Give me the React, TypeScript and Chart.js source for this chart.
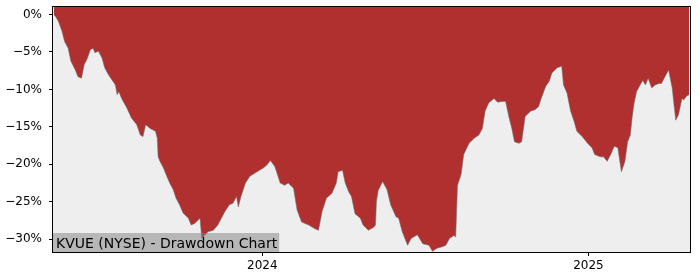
import React, { useEffect, useRef } from "react";
import { Chart, registerables } from "chart.js";

Chart.register(...registerables);

// Days relative to 2024-01-01
const dayOffsets = [
  -234, -232, -229, -225, -222, -218, -215, -210, -207, -203, -200, -197, -193, -190, -188, -184, -180, -177, -173, -169,
  -165, -163, -161, -158, -152, -147, -141, -137, -134, -131, -126, -120, -118, -117, -115, -111, -108, -104, -100, -97,
  -93, -89, -83, -80, -76, -70, -68, -65, -61, -55, -50, -46, -42, -37, -33, -29, -27, -24, -19, -14,
  -6, 1, 5, 9, 14, 20, 25, 29, 35, 39, 44, 52, 59, 63, 67, 72, 78, 83, 85, 90,
  93, 97, 100, 104, 110, 113, 119, 125, 127, 128, 130, 135, 140, 144, 150, 153, 157, 163, 167, 174,
  180, 187, 191, 196, 202, 206, 210, 215, 217, 219, 223, 226, 232, 238, 243, 247, 250, 254, 260, 264,
  269, 273, 277, 280, 283, 288, 291, 295, 301, 306, 310, 313, 318, 322, 325, 331, 336, 338, 342, 346,
  350, 353, 359, 365, 370, 373, 379, 383, 387, 391, 395, 399, 403, 407, 410, 413, 415, 417, 420, 424,
  427, 430, 433, 437, 441, 445, 448, 451, 456, 460, 462, 464, 467, 471, 473, 476, 479,
];

// Drawdown in percent
const drawdownPct = [
  0, -0.3, -0.9, -2.2, -3.6, -4.5, -6.2, -7.4, -8.3, -8.5, -6.7, -6.0, -4.7, -4.5, -5.1, -4.9, -5.8, -7.1, -8.0, -8.7,
  -9.4, -10.7, -10.3, -11.2, -12.5, -13.8, -14.7, -16.1, -16.3, -14.7, -15.2, -15.6, -16.5, -19.0, -19.6, -20.5, -21.4, -22.5, -23.4, -24.5,
  -25.4, -26.5, -27.2, -28.1, -27.9, -27.2, -29.9, -29.5, -29.0, -28.8, -28.1, -27.2, -26.3, -25.4, -25.2, -24.3, -25.7, -24.3, -22.5, -21.6,
  -21.0, -20.5, -20.1, -19.5, -20.3, -22.5, -22.8, -22.5, -23.2, -26.1, -27.7, -28.1, -28.6, -28.8, -26.3, -24.5, -23.9, -22.5, -21.0, -20.8,
  -22.5, -23.7, -24.3, -26.6, -27.2, -28.1, -28.8, -28.4, -28.1, -25.0, -23.5, -22.3, -23.4, -25.4, -27.0, -27.2, -29.0, -30.8, -29.9, -29.4,
  -30.6, -30.8, -31.6, -31.2, -31.0, -30.8, -29.9, -29.5, -29.7, -22.8, -21.4, -18.7, -17.2, -16.5, -16.1, -15.2, -12.9, -11.8, -11.2, -11.7,
  -11.6, -11.6, -13.8, -15.2, -17.0, -17.2, -17.0, -13.6, -12.9, -12.7, -12.3, -11.2, -9.6, -8.9, -7.8, -7.1, -6.9, -9.4, -10.5, -12.9,
  -14.3, -15.6, -16.3, -17.2, -17.8, -18.7, -19.0, -19.0, -19.6, -18.7, -17.6, -17.8, -21.0, -19.6, -17.0, -16.1, -13.8, -12.0, -10.3, -9.4,
  -8.8, -9.4, -8.5, -9.8, -9.4, -9.2, -9.2, -8.5, -7.4, -9.8, -12.0, -14.1, -13.4, -11.2, -11.4, -10.9, -10.7,
];

const yTickValues = [0, -5, -10, -15, -20, -25, -30];
const xTickValues = [0, 366];
const xTickLabels = ["2024", "2025"];
const titleText = "KVUE (NYSE) - Drawdown Chart";

const FONT = "'DejaVu Sans', sans-serif";

export default function App() {
  const ref = useRef<HTMLCanvasElement | null>(null);

  useEffect(() => {
    document.body.style.margin = "0";
    const canvas = ref.current;
    if (!canvas) return;

    const bgPlugin = {
      id: "bgPlugin",
      beforeDatasetsDraw(chart: any) {
        const { ctx, chartArea: a } = chart;
        ctx.save();
        ctx.fillStyle = "#eeeeee";
        ctx.fillRect(a.left, a.top, a.right - a.left, a.bottom - a.top);
        ctx.restore();
      },
      afterDatasetsDraw(chart: any) {
        const { ctx, chartArea: a } = chart;
        ctx.save();
        ctx.font = `14px ${FONT}`;
        const w = ctx.measureText(titleText).width;
        const boxTop = a.bottom - 19;
        ctx.fillStyle = "rgba(128,128,128,0.5)";
        ctx.fillRect(a.left, boxTop, w + 5, a.bottom - boxTop);
        ctx.fillStyle = "#000";
        ctx.textBaseline = "alphabetic";
        ctx.fillText(titleText, a.left + 3, a.bottom - 4.5);
        ctx.strokeStyle = "#000";
        ctx.lineWidth = 1;
        ctx.strokeRect(Math.round(a.left) - 0.5, Math.round(a.top) - 0.5, Math.round(a.right - a.left) + 1, Math.round(a.bottom - a.top) + 1);
        ctx.restore();
      },
    };

    const chart = new Chart(canvas, {
      type: "line",
      data: {
        datasets: [
          {
            data: dayOffsets.map((d, i) => ({ x: d, y: drawdownPct[i] })),
            borderColor: "rgba(110,110,110,0.7)",
            borderWidth: 0.8,
            backgroundColor: "#b03030",
            fill: "end",
            pointRadius: 0,
            tension: 0,
          },
        ],
      },
      options: {
        animation: false,
        responsive: false,
        devicePixelRatio: 1,
        layout: { padding: { left: 0, right: 10, top: 7, bottom: 0 } },
        plugins: { legend: { display: false }, tooltip: { enabled: false } },
        scales: {
          x: {
            type: "linear",
            min: -235,
            max: 480,
            afterBuildTicks(scale: any) {
              scale.ticks = xTickValues.map((v) => ({ value: v }));
            },
            afterFit(scale: any) {
              scale.height = 28;
              scale.paddingLeft = 0;
              scale.paddingRight = 0;
            },
            grid: { display: true, drawOnChartArea: false, drawTicks: true, tickLength: 4, color: "#000", tickColor: "#000" },
            border: { display: false },
            ticks: {
              color: "#000",
              font: { family: FONT, size: 12 },
              padding: 3,
              maxRotation: 0,
              autoSkip: false,
              callback: (v: any) => {
                const i = xTickValues.indexOf(Number(v));
                return i >= 0 ? xTickLabels[i] : "";
              },
            },
          },
          y: {
            type: "linear",
            min: -31.7,
            max: 1.0,
            afterBuildTicks(scale: any) {
              scale.ticks = yTickValues.map((v) => ({ value: v }));
            },
            afterFit(scale: any) {
              scale.width = 53;
              scale.paddingTop = 0;
              scale.paddingBottom = 0;
            },
            grid: { display: true, drawOnChartArea: false, drawTicks: true, tickLength: 4, color: "#000", tickColor: "#000" },
            border: { display: false },
            ticks: {
              color: "#000",
              font: { family: FONT, size: 12 },
              padding: 7,
              autoSkip: false,
              callback: (v: any) => {
                const n = Number(v);
                return n === 0 ? "0%" : (n < 0 ? "\u2212" : "") + Math.abs(n) + "%";
              },
            },
          },
        },
      },
      plugins: [bgPlugin],
    });

    return () => chart.destroy();
  }, []);

  return <canvas ref={ref} width={700} height={280} style={{ display: "block" }} />;
}
